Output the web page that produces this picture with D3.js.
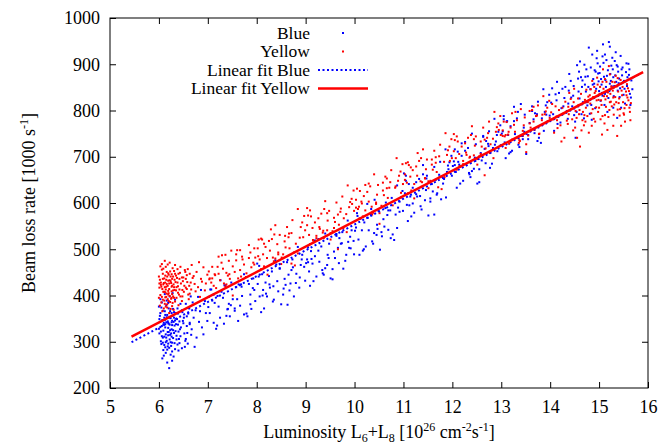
<!DOCTYPE html>
<html>
<head>
<meta charset="utf-8">
<script src="https://cdn.jsdelivr.net/npm/d3@7"></script>
<style>
    body { margin: 0; background: #fff; }
    svg text { font-family: "Liberation Serif", "Times New Roman", Times, "DejaVu Serif", serif; fill: #000; }
</style>
</head>
<body>
<div id="chart"></div>
<script>
// ----------------------------------------------------------------
// data: [luminosity, loss rate]
// ----------------------------------------------------------------
const xTicks = [5, 6, 7, 8, 9, 10, 11, 12, 13, 14, 15, 16];
const yTicks = [200, 300, 400, 500, 600, 700, 800, 900, 1000];

const seriesNames = ["Blue", "Yellow", "Linear fit Blue", "Linear fit Yellow"];

const bluePoints = [
    [6.13,331],[6.02,356],[6.27,298],[6.18,344],[6.08,309],[6.35,362],[6.21,287],[6.05,374],[6.31,319],[6.16,302],
    [6.24,351],[6.11,293],[6.39,337],[6.00,328],[6.29,371],[6.14,316],[6.07,347],[6.33,284],[6.20,339],[6.26,311],
    [6.04,301],[6.37,349],[6.12,366],[6.23,325],[6.09,282],[6.30,343],[6.17,358],[6.41,306],[6.01,318],[6.25,291],
    [6.15,379],[6.06,334],[6.34,323],[6.19,296],[6.28,356],[6.10,341],[6.22,305],[6.03,362],[6.36,313],[6.13,288],
    [6.32,335],[6.18,321],[6.08,367],[6.26,342],[6.43,327],[6.11,311],[6.20,372],[6.05,295],[6.29,308],[6.16,353],
    [6.38,294],[6.23,366],[6.14,299],[6.02,343],[6.31,352],[6.09,324],[6.27,279],[6.19,384],[6.35,338],[6.12,347],
    [6.24,272],[6.07,264],[6.17,255],[6.30,268],[6.21,243],[6.14,276],[6.40,281],[6.10,270],[6.27,259],[6.47,286],
    [6.03,392],[6.22,398],[6.33,391],[6.12,403],[6.44,382],[6.06,385],[6.28,405],[6.16,389],[6.38,372],[6.00,376],
    [6.25,318],[6.19,330],[6.15,309],[6.21,352],[6.09,337],[6.32,297],[6.13,358],[6.26,327],[6.18,290],[6.23,315],
    [6.04,322],[6.19,314],[6.33,346],[6.11,352],[6.27,336],[6.08,298],[6.22,337],[6.36,305],[6.15,342],[6.29,325],
    [6.06,312],[6.24,299],[6.39,361],[6.17,283],[6.31,364],[6.01,349],[6.20,321],[6.13,338],[6.42,344],[6.26,362],
    [6.45,331],[6.51,352],[6.58,319],[6.42,297],[6.63,338],[6.47,368],[6.55,306],[6.60,361],[6.44,312],[6.53,289],
    [6.49,345],[6.62,372],[6.57,334],[6.40,322],[6.66,315],
    [6.52,318],[6.71,352],[6.48,364],[6.88,331],[6.59,296],[6.94,388],[6.63,341],[6.77,309],[6.55,382],[6.84,366],
    [6.67,327],[6.99,345],[6.50,340],[6.80,397],[6.61,373],[6.73,289],[6.91,316],[6.57,355],[6.86,412],[6.69,385],
    [6.96,362],[6.54,302],[6.82,343],[6.65,398],[6.75,368],
    [7.04,362],[7.31,395],[7.12,341],[7.58,418],[7.22,376],[7.87,402],[7.45,355],[7.09,389],[7.66,378],[7.36,422],
    [7.93,437],[7.17,328],[7.51,392],[7.79,361],[7.28,408],[7.62,345],[7.02,397],[7.41,371],[7.84,425],[7.25,352],
    [7.70,399],[7.48,428],[7.14,384],[7.97,388],[7.55,367],[7.33,339],[7.74,446],[7.07,413],[7.60,392],[7.89,371],
    [7.20,399],[7.43,382],[7.95,412],[7.38,356],[7.68,424],
    [7.01,375],[7.19,335],[7.34,422],[7.47,379],[7.63,424],[7.81,355],[7.92,416],[7.26,433],[7.55,372],[7.74,359],
    [7.12,402],[7.40,370],[7.69,419],[7.87,381],[7.05,413],
    [8.06,398],[8.42,431],[8.15,372],[8.71,455],[8.27,417],[8.93,488],[8.54,402],[8.11,446],[8.80,427],[8.35,391],
    [8.62,472],[8.02,425],[8.47,459],[8.88,439],[8.21,398],[8.67,411],[8.38,476],[8.97,462],[8.09,364],[8.57,436],
    [8.31,452],[8.76,398],[8.18,428],[8.50,381],[8.84,505],[8.25,442],[8.65,445],[8.44,409],[8.99,432],[8.13,412],
    [8.73,478],[8.04,441],[8.59,423],[8.90,466],[8.33,387],
    [8.01,469],[8.19,404],[8.34,420],[8.47,458],[8.63,380],[8.81,447],[8.92,478],[8.26,424],[8.55,415],[8.74,461],
    [8.12,400],[8.40,467],[8.69,426],[8.87,417],[8.05,464],
    [9.07,452],[9.45,488],[9.16,431],[9.72,512],[9.28,473],[9.94,541],[9.55,457],[9.11,496],[9.83,488],[9.37,445],
    [9.63,529],[9.03,478],[9.48,512],[9.89,503],[9.22,441],[9.68,470],[9.40,534],[9.98,518],[9.09,421],[9.58,495],
    [9.32,506],[9.77,458],[9.19,485],[9.51,437],[9.86,562],[9.26,497],[9.66,503],[9.44,466],[9.99,489],[9.14,469],
    [9.75,537],[9.05,504],[9.60,481],[9.91,527],[9.35,448],
    [9.01,470],[9.19,519],[9.34,455],[9.47,481],[9.63,533],[9.81,475],[9.92,502],[9.26,522],[9.55,435],[9.74,513],
    [9.12,479],[9.40,459],[9.69,524],[9.87,516],[9.05,472],
    [10.08,521],[10.46,553],[10.17,497],[10.73,584],[10.29,541],[10.95,612],[10.56,528],[10.12,566],[10.84,575],[10.38,512],
    [10.64,601],[10.03,547],[10.49,583],[10.89,590],[10.23,506],[10.69,542],[10.41,607],[10.98,626],[10.10,488],[10.59,565],
    [10.33,576],[10.78,532],[10.20,558],[10.52,499],[10.87,638],[10.27,568],[10.67,574],[10.45,531],[10.99,583],[10.15,541],
    [10.76,611],[10.06,572],[10.61,549],[10.92,603],[10.36,517],
    [10.01,540],[10.19,500],[10.34,587],[10.47,544],[10.63,589],[10.81,520],[10.92,581],[10.26,598],[10.55,537],[10.74,524],
    [10.12,567],[10.40,535],[10.69,584],[10.87,546],[10.05,578],
    [11.07,596],[11.46,628],[11.16,571],[11.73,661],[11.28,614],[11.94,688],[11.55,603],[11.11,641],[11.83,652],[11.37,586],
    [11.63,678],[11.03,621],[11.48,659],[11.89,667],[11.22,579],[11.68,618],[11.40,682],[11.98,702],[11.09,561],[11.58,641],
    [11.32,652],[11.77,608],[11.19,633],[11.51,573],[11.86,716],[11.26,645],[11.66,650],[11.44,606],[11.99,659],[11.14,614],
    [11.75,689],[11.05,648],[11.60,625],[11.91,681],[11.35,593],
    [11.01,664],[11.19,599],[11.34,615],[11.47,653],[11.63,575],[11.81,642],[11.92,673],[11.26,619],[11.55,610],[11.74,656],
    [11.12,595],[11.40,662],[11.69,621],[11.87,612],[11.05,659],
    [12.07,667],[12.46,698],[12.16,642],[12.73,728],[12.28,684],[12.94,754],[12.55,673],[12.11,711],[12.83,719],[12.37,656],
    [12.63,745],[12.03,690],[12.48,727],[12.89,733],[12.22,648],[12.68,686],[12.40,750],[12.98,768],[12.09,633],[12.58,708],
    [12.32,719],[12.77,676],[12.19,702],[12.51,642],[12.86,782],[12.26,713],[12.66,717],[12.44,674],[12.99,725],[12.14,683],
    [12.75,755],[12.05,716],[12.60,692],[12.91,747],[12.35,662],
    [12.01,680],[12.19,729],[12.34,665],[12.47,691],[12.63,743],[12.81,685],[12.92,712],[12.26,732],[12.55,645],[12.74,723],
    [12.12,689],[12.40,669],[12.69,734],[12.87,726],[12.05,682],
    [13.07,731],[13.46,763],[13.16,707],[13.73,792],[13.28,749],[13.94,818],[13.55,738],[13.11,776],[13.83,783],[13.37,721],
    [13.63,809],[13.03,755],[13.48,791],[13.89,797],[13.22,713],[13.68,751],[13.40,814],[13.98,834],[13.09,697],[13.58,773],
    [13.32,783],[13.77,741],[13.19,766],[13.51,706],[13.86,846],[13.26,777],[13.66,781],[13.44,738],[13.99,789],[13.14,747],
    [13.75,819],[13.05,781],[13.60,756],[13.91,811],[13.35,726],
    [13.01,750],[13.19,710],[13.34,797],[13.47,754],[13.63,799],[13.81,730],[13.92,791],[13.26,808],[13.55,747],[13.74,734],
    [13.12,777],[13.40,745],[13.69,794],[13.87,756],[13.05,788],
    [14.06,792],[14.43,828],[14.15,771],[14.71,856],[14.27,809],[14.93,884],[14.54,797],[14.11,835],[14.82,846],[14.36,782],
    [14.63,872],[14.02,817],[14.48,853],[14.88,868],[14.21,774],[14.67,818],[14.39,879],[14.97,902],[14.08,756],[14.58,841],
    [14.31,851],[14.76,811],[14.18,838],[14.51,776],[14.86,921],[14.25,847],[14.65,851],[14.45,809],[14.99,863],[14.13,822],
    [14.74,889],[14.04,848],[14.60,826],[14.91,887],[14.34,799],[14.79,936],[14.55,898],[14.69,783],[14.84,812],[14.94,847],
    [14.42,864],[14.29,827],[14.61,906],[14.73,841],[14.89,829],[14.52,741],[14.81,793],[14.96,929],[14.66,865],[14.47,832],
    [14.77,874],[14.57,869],[14.87,856],[14.23,805],[14.38,843],[14.92,805],[14.64,792],[14.83,893],[14.70,899],[14.98,880],
    [14.14,862],[14.37,815],[14.59,884],[14.78,851],[14.95,913],[14.49,790],[14.72,873],[14.90,858],[14.85,780],[15.00,842],
    [15.04,868],[15.21,842],[15.09,903],[15.33,876],[15.14,851],[15.46,889],[15.27,914],[15.07,832],[15.40,859],[15.18,887],
    [15.52,847],[15.02,895],[15.30,831],[15.58,872],[15.12,921],[15.36,898],[15.24,864],[15.63,836],[15.05,856],[15.44,918],
    [15.16,875],[15.49,861],[15.28,889],[15.11,812],[15.55,883],[15.22,938],[15.38,843],[15.66,865],[15.01,881],[15.32,907],
    [15.19,827],[15.47,876],[15.26,852],[15.60,901],[15.13,866],[15.42,829],[15.08,943],[15.35,862],[15.53,815],[15.23,879],
    [15.68,846],[15.17,797],[15.39,884],[15.29,806],[15.57,853],[15.03,821],[15.45,806],[15.20,948],[15.62,889],[15.34,926],
    [15.10,873],[15.50,834],[15.25,897],[15.41,869],[15.15,909],[15.64,812],[15.31,853],[15.06,838],[15.48,893],[15.37,784],
    [15.12,836],[15.29,872],[15.43,848],[15.56,902],[15.65,828],[15.07,917],[15.22,858],[15.38,895],[15.51,864],[15.61,877]
];

const yellowPoints = [
    [6.12,418],[6.03,401],[6.27,436],[6.18,392],[6.08,447],[6.35,411],[6.21,426],[6.05,385],[6.31,453],[6.16,404],
    [6.24,431],[6.11,389],[6.39,420],[6.00,441],[6.29,398],[6.14,462],[6.07,414],[6.33,387],[6.20,445],[6.26,409],
    [6.04,428],[6.37,438],[6.13,396],[6.23,452],[6.09,408],[6.30,424],[6.17,381],[6.41,402],[6.01,417],[6.25,393],
    [6.15,434],[6.06,456],[6.34,429],[6.19,410],[6.28,384],[6.10,427],[6.22,399],[6.02,434],[6.36,395],[6.13,443],
    [6.32,412],[6.18,467],[6.08,391],[6.26,419],[6.43,449],[6.11,437],[6.20,405],[6.05,419],[6.29,441],[6.16,425],
    [6.38,457],[6.23,386],[6.14,413],[6.02,378],[6.31,395],[6.09,458],[6.27,403],[6.19,432],[6.35,443],[6.12,382],
    [6.24,371],[6.07,366],[6.17,374],[6.30,369],[6.21,362],[6.14,376],[6.40,379],[6.10,372],[6.27,377],[6.47,388],
    [6.03,463],[6.22,471],[6.33,466],[6.12,475],[6.44,462],[6.06,468],[6.28,459],[6.16,451],[6.38,428],[6.00,395],
    [6.25,427],[6.19,448],[6.15,397],[6.21,414],[6.09,424],[6.32,434],[6.13,407],[6.26,446],[6.18,421],[6.48,412],
    [6.04,423],[6.19,402],[6.33,447],[6.11,408],[6.27,421],[6.08,436],[6.22,433],[6.36,418],[6.15,419],[6.29,411],
    [6.06,397],[6.24,441],[6.39,406],[6.17,441],[6.31,418],[6.01,426],[6.20,388],[6.13,428],[6.42,436],[6.26,395],
    [6.45,426],[6.51,408],[6.58,429],[6.42,413],[6.63,447],[6.47,439],[6.55,417],[6.60,402],[6.44,398],[6.53,455],
    [6.49,431],[6.62,421],[6.57,444],[6.40,447],[6.66,413],
    [6.52,421],[6.71,442],[6.48,398],[6.88,430],[6.59,457],[6.94,411],[6.63,404],[6.77,451],[6.55,436],[6.84,397],
    [6.67,466],[6.99,445],[6.50,439],[6.80,418],[6.61,392],[6.73,425],[6.91,461],[6.57,414],[6.86,436],[6.69,438],
    [6.96,426],[6.54,451],[6.82,472],[6.65,428],[6.75,409],
    [7.04,437],[7.31,458],[7.12,421],[7.58,476],[7.22,447],[7.87,493],[7.45,436],[7.09,462],[7.66,455],[7.36,488],
    [7.93,471],[7.17,416],[7.51,463],[7.79,448],[7.28,471],[7.62,437],[7.02,452],[7.41,443],[7.84,509],[7.25,433],
    [7.70,484],[7.48,497],[7.14,446],[7.97,482],[7.55,451],[7.33,426],[7.74,467],[7.07,428],[7.60,498],[7.89,461],
    [7.20,462],[7.43,475],[7.95,502],[7.38,449],[7.68,441],
    [7.03,435],[7.22,484],[7.36,420],[7.44,446],[7.66,498],[7.78,440],[7.95,467],[7.29,487],[7.51,400],[7.71,478],
    [7.15,444],[7.38,424],[7.58,489],[7.84,481],[7.09,437],
    [8.06,478],[8.42,511],[8.15,463],[8.71,535],[8.27,497],[8.93,558],[8.54,489],[8.11,521],[8.80,512],[8.35,474],
    [8.62,548],[8.02,502],[8.47,531],[8.88,525],[8.21,481],[8.67,502],[8.38,552],[8.97,572],[8.09,457],[8.57,517],
    [8.31,522],[8.76,493],[8.18,505],[8.50,468],[8.84,587],[8.25,518],[8.65,526],[8.44,493],[8.99,541],[8.13,489],
    [8.73,563],[8.04,521],[8.59,504],[8.90,548],[8.33,482],
    [8.03,485],[8.22,445],[8.36,532],[8.44,489],[8.66,534],[8.78,465],[8.95,526],[8.29,543],[8.51,482],[8.71,469],
    [8.15,512],[8.38,480],[8.58,529],[8.84,491],[8.09,523],
    [9.07,531],[9.45,562],[9.16,515],[9.72,588],[9.28,548],[9.94,609],[9.55,539],[9.11,571],[9.83,576],[9.37,524],
    [9.63,601],[9.03,552],[9.48,583],[9.89,591],[9.22,529],[9.68,553],[9.40,604],[9.98,627],[9.09,511],[9.58,568],
    [9.32,577],[9.77,545],[9.19,558],[9.51,521],[9.86,638],[9.26,567],[9.66,575],[9.44,541],[9.99,583],[9.14,546],
    [9.75,614],[9.05,573],[9.60,559],[9.91,602],[9.35,536],
    [9.03,589],[9.22,524],[9.36,540],[9.44,578],[9.66,500],[9.78,567],[9.95,598],[9.29,544],[9.51,535],[9.71,581],
    [9.15,520],[9.38,587],[9.58,546],[9.84,537],[9.09,584],
    [10.07,587],[10.46,618],[10.17,571],[10.73,645],[10.29,603],[10.94,668],[10.55,594],[10.11,626],[10.83,633],[10.37,581],
    [10.63,657],[10.03,607],[10.48,639],[10.89,648],[10.22,584],[10.68,611],[10.40,662],[10.98,684],[10.09,566],[10.58,627],
    [10.32,636],[10.77,602],[10.19,615],[10.51,578],[10.86,697],[10.26,624],[10.66,632],[10.44,598],[10.99,641],[10.14,603],
    [10.75,671],[10.05,631],[10.60,617],[10.91,659],[10.35,592],
    [10.03,590],[10.22,639],[10.36,575],[10.44,601],[10.66,653],[10.78,595],[10.95,622],[10.29,642],[10.51,555],[10.71,633],
    [10.15,599],[10.38,579],[10.58,644],[10.84,636],[10.09,592],
    [11.07,644],[11.46,673],[11.16,627],[11.73,701],[11.28,659],[11.94,722],[11.55,648],[11.11,682],[11.83,689],[11.37,635],
    [11.63,713],[11.03,662],[11.48,694],[11.89,704],[11.22,641],[11.68,667],[11.40,716],[11.98,738],[11.09,621],[11.58,683],
    [11.32,691],[11.77,657],[11.19,671],[11.51,632],[11.86,751],[11.26,679],[11.66,687],[11.44,653],[11.99,697],[11.14,657],
    [11.75,726],[11.05,686],[11.60,672],[11.91,714],[11.35,647],
    [11.03,650],[11.22,610],[11.36,697],[11.44,654],[11.66,699],[11.78,630],[11.95,691],[11.29,708],[11.51,647],[11.71,634],
    [11.15,677],[11.38,645],[11.58,694],[11.84,656],[11.09,688],
    [12.07,697],[12.46,724],[12.16,678],[12.73,751],[12.28,709],[12.94,772],[12.55,701],[12.11,733],[12.83,739],[12.37,688],
    [12.63,763],[12.03,712],[12.48,744],[12.89,754],[12.22,691],[12.68,718],[12.40,766],[12.98,788],[12.09,672],[12.58,733],
    [12.32,741],[12.77,708],[12.19,722],[12.51,683],[12.86,797],[12.26,729],[12.66,737],[12.44,703],[12.99,747],[12.14,706],
    [12.75,776],[12.05,736],[12.60,722],[12.91,764],[12.35,698],
    [12.03,749],[12.22,684],[12.36,700],[12.44,738],[12.66,660],[12.78,727],[12.95,758],[12.29,704],[12.51,695],[12.71,741],
    [12.15,680],[12.38,747],[12.58,706],[12.84,697],[12.09,744],
    [13.07,744],[13.46,768],[13.16,728],[13.73,789],[13.28,754],[13.94,806],[13.55,746],[13.11,775],[13.83,779],[13.37,736],
    [13.63,801],[13.03,757],[13.48,785],[13.89,792],[13.22,737],[13.68,758],[13.40,803],[13.98,821],[13.09,719],[13.58,772],
    [13.32,779],[13.77,749],[13.19,763],[13.51,727],[13.86,831],[13.26,769],[13.66,776],[13.44,745],[13.99,784],[13.14,748],
    [13.75,811],[13.05,776],[13.60,763],[13.91,798],[13.35,740],
    [13.03,745],[13.22,794],[13.36,730],[13.44,756],[13.66,808],[13.78,750],[13.95,777],[13.29,797],[13.51,710],[13.71,788],
    [13.15,754],[13.38,734],[13.58,799],[13.84,791],[13.09,747],
    [14.06,781],[14.43,803],[14.15,762],[14.71,823],[14.27,793],[14.93,842],[14.54,784],[14.11,809],[14.82,815],[14.36,771],
    [14.63,836],[14.02,796],[14.48,818],[14.88,829],[14.21,768],[14.67,797],[14.39,838],[14.97,856],[14.08,752],[14.58,812],
    [14.31,819],[14.76,788],[14.18,801],[14.51,763],[14.86,864],[14.25,806],[14.65,814],[14.45,781],[14.99,823],[14.13,787],
    [14.74,845],[14.04,814],[14.60,801],[14.91,838],[14.34,778],[14.79,752],[14.55,741],[14.69,768],[14.84,794],[14.94,807],
    [14.42,825],[14.29,741],[14.61,722],[14.73,806],[14.89,782],[14.52,799],[14.81,833],[14.96,871],[14.66,779],[14.47,757],
    [14.77,818],[14.57,826],[14.87,803],[14.23,733],[14.38,792],[14.92,776],[14.64,757],[14.83,846],[14.70,790],[14.98,797],
    [14.14,779],[14.37,808],[14.59,792],[14.78,830],[14.95,822],[14.49,847],[14.72,776],[14.90,851],[14.85,767],[15.00,806],
    [15.04,822],[15.21,801],[15.09,847],[15.33,829],[15.14,808],[15.46,843],[15.27,862],[15.07,788],[15.40,816],[15.18,839],
    [15.52,805],[15.02,851],[15.30,791],[15.58,828],[15.12,868],[15.36,852],[15.24,819],[15.63,797],[15.05,812],[15.44,866],
    [15.16,831],[15.49,818],[15.28,843],[15.11,772],[15.55,841],[15.22,878],[15.38,802],[15.60,822],[15.01,836],[15.32,861],
    [15.19,786],[15.47,833],[15.26,809],[15.57,857],[15.13,824],[15.42,789],[15.08,889],[15.35,818],[15.53,776],[15.23,836],
    [15.62,806],[15.17,758],[15.39,841],[15.29,767],[15.56,812],[15.03,781],[15.45,767],[15.20,896],[15.59,848],[15.34,875],
    [15.10,831],[15.50,794],[15.25,852],[15.41,826],[15.15,862],[15.64,779],[15.31,813],[15.06,748],[15.48,851],[15.37,745],
    [15.12,790],[15.29,828],[15.43,803],[15.56,833],[15.65,816],[15.07,862],[15.22,818],[15.38,870],[15.51,791],[15.61,842]
];

// end points of the two fitted lines
const fitBlue = [[5.44, 299], [15.85, 880]];
const fitYellow = [[5.44, 311], [15.9, 883]];

function drawChart() {
    const width = 659;
    const height = 446;
    const margin = { top: 18, right: 11, bottom: 58, left: 110 };
    const innerW = width - margin.left - margin.right;
    const innerH = height - margin.top - margin.bottom;
    const serif = "'Liberation Serif', 'Times New Roman', Times, 'DejaVu Serif', serif";

    const svg = d3.select("#chart").append("svg")
        .attr("width", width)
        .attr("height", height);

    const g = svg.append("g")
        .attr("transform", "translate(" + margin.left + "," + margin.top + ")");

    const x = d3.scaleLinear().domain([5, 16]).range([0, innerW]);
    const y = d3.scaleLinear().domain([200, 1000]).range([innerH, 0]);

    // scatter, blue first then yellow on top
    const dot = 2;
    g.append("g")
        .selectAll("rect")
        .data(bluePoints)
        .enter().append("rect")
        .attr("x", d => x(d[0]) - dot / 2)
        .attr("y", d => y(d[1]) - dot / 2)
        .attr("width", dot)
        .attr("height", dot)
        .attr("fill", "#0000ff");

    g.append("g")
        .selectAll("rect")
        .data(yellowPoints)
        .enter().append("rect")
        .attr("x", d => x(d[0]) - dot / 2)
        .attr("y", d => y(d[1]) - dot / 2)
        .attr("width", dot)
        .attr("height", dot)
        .attr("fill", "#ff0000");

    const line = d3.line().x(d => x(d[0])).y(d => y(d[1]));

    g.append("path")
        .datum(fitBlue)
        .attr("d", line)
        .attr("fill", "none")
        .attr("stroke", "#0000ff")
        .attr("stroke-width", 2)
        .attr("stroke-dasharray", "2,2.5");

    g.append("path")
        .datum(fitYellow)
        .attr("d", line)
        .attr("fill", "none")
        .attr("stroke", "#ff0000")
        .attr("stroke-width", 2.5);

    // axes with inward ticks, mirrored on top and right
    const fmt = d3.format("d");
    g.append("g")
        .attr("transform", "translate(0," + innerH + ")")
        .call(d3.axisBottom(x).tickValues(xTicks).tickFormat(fmt).tickSizeInner(-6).tickSizeOuter(0).tickPadding(12))
        .call(a => a.select(".domain").remove());
    g.append("g")
        .call(d3.axisTop(x).tickValues(xTicks.slice(1, -1)).tickFormat("").tickSizeInner(-6).tickSizeOuter(0))
        .call(a => a.select(".domain").remove());
    g.append("g")
        .call(d3.axisLeft(y).tickValues(yTicks).tickFormat(fmt).tickSizeInner(-6).tickSizeOuter(0).tickPadding(10))
        .call(a => a.select(".domain").remove());
    g.append("g")
        .attr("transform", "translate(" + innerW + ",0)")
        .call(d3.axisRight(y).tickValues(yTicks.slice(1, -1)).tickFormat("").tickSizeInner(-6).tickSizeOuter(0))
        .call(a => a.select(".domain").remove());

    g.selectAll(".tick text")
        .attr("font-family", serif)
        .style("font-family", serif)
        .style("font-size", "18px")
        .attr("fill", "#000");
    g.selectAll(".tick line").attr("stroke", "#000");

    g.append("rect")
        .attr("width", innerW)
        .attr("height", innerH)
        .attr("fill", "none")
        .attr("stroke", "#000")
        .attr("stroke-width", 1);

    // axis titles
    const xt = svg.append("text")
        .attr("x", margin.left + innerW / 2)
        .attr("y", 438)
        .attr("text-anchor", "middle")
        .style("font-family", serif)
        .style("font-size", "18px");
    xt.append("tspan").text("Luminosity L");
    xt.append("tspan").attr("dy", 4).style("font-size", "12px").text("6");
    xt.append("tspan").attr("dy", -4).text("+L");
    xt.append("tspan").attr("dy", 4).style("font-size", "12px").text("8");
    xt.append("tspan").attr("dy", -4).text(" [10");
    xt.append("tspan").attr("dy", -7).style("font-size", "12px").text("26");
    xt.append("tspan").attr("dy", 7).text(" cm");
    xt.append("tspan").attr("dy", -7).style("font-size", "12px").text("-2");
    xt.append("tspan").attr("dy", 7).text("s");
    xt.append("tspan").attr("dy", -7).style("font-size", "12px").text("-1");
    xt.append("tspan").attr("dy", 7).text("]");

    const yt = svg.append("text")
        .attr("transform", "translate(35," + (margin.top + innerH / 2) + ") rotate(-90)")
        .attr("text-anchor", "middle")
        .style("font-family", serif)
        .style("font-size", "18px");
    yt.append("tspan").text("Beam loss rate [1000 s");
    yt.append("tspan").attr("dy", -7).style("font-size", "12px").text("-1");
    yt.append("tspan").attr("dy", 7).text("]");

    // legend
    const legendY = [33, 51.5, 70, 88.5];
    const legend = svg.append("g")
        .selectAll("g")
        .data(seriesNames)
        .enter().append("g")
        .attr("transform", (d, i) => "translate(310," + legendY[i] + ")");

    legend.append("text")
        .attr("x", 0)
        .attr("dy", "0.32em")
        .attr("text-anchor", "end")
        .style("font-family", serif)
        .style("font-size", "17.5px")
        .text(d => d);

    legend.filter((d, i) => i < 2)
        .append("rect")
        .attr("x", 32)
        .attr("y", -1)
        .attr("width", dot)
        .attr("height", dot)
        .attr("fill", (d, i) => i === 0 ? "#0000ff" : "#ff0000");

    legend.filter((d, i) => i >= 2)
        .append("line")
        .attr("x1", 8)
        .attr("x2", 58)
        .attr("stroke", (d, i) => i === 0 ? "#0000ff" : "#ff0000")
        .attr("stroke-width", (d, i) => i === 0 ? 2 : 2.5)
        .attr("stroke-dasharray", (d, i) => i === 0 ? "2,2.5" : null);
}

drawChart();
</script>
</body>
</html>
